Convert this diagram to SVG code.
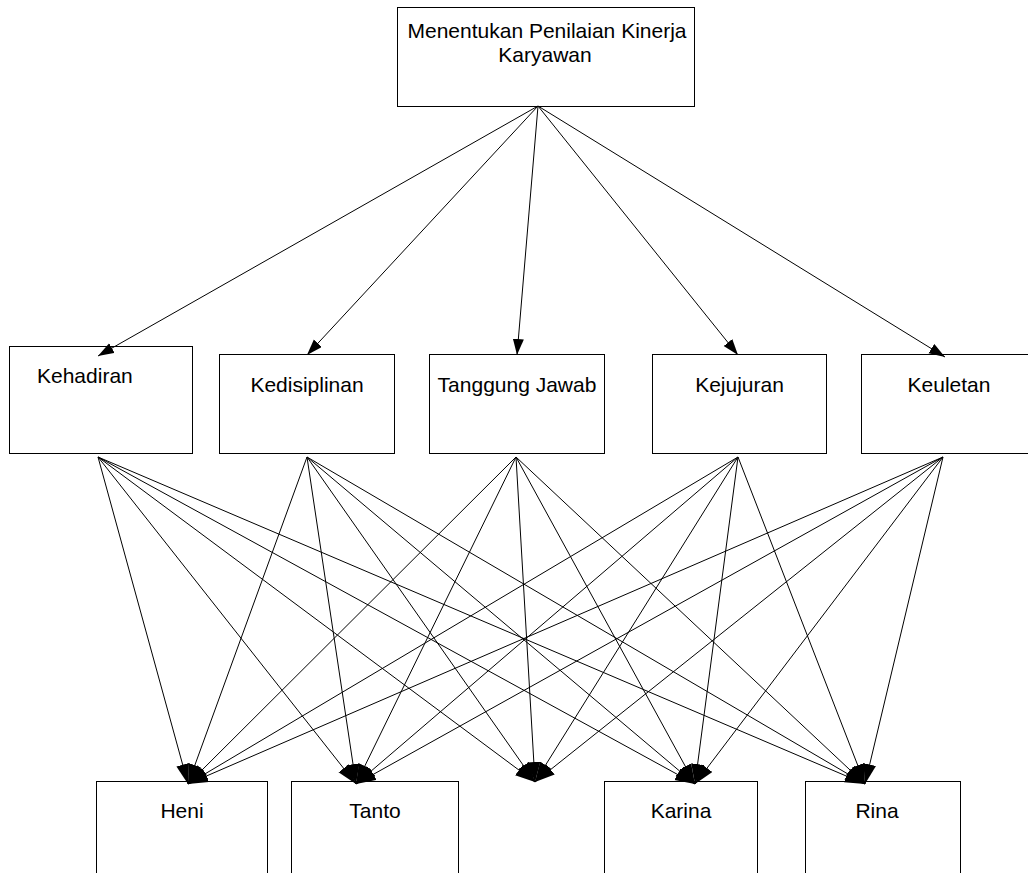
<svg xmlns="http://www.w3.org/2000/svg" width="1028" height="873" viewBox="0 0 1028 873">
<style>
.box{fill:#fff;stroke:#000;stroke-width:1}
.lbl{font-family:"Liberation Sans",Arial,sans-serif;font-size:21px;fill:#000}
.c{text-anchor:middle}
.ln{stroke:#000;stroke-width:1;fill:none;marker-end:url(#ah)}
.lb{stroke:#000;stroke-width:1;fill:none;marker-end:url(#ahb)}
</style>
<defs>
<marker id="ah" markerUnits="userSpaceOnUse" markerWidth="18" markerHeight="12" refX="16" refY="5.5" orient="auto">
<path d="M0,0 L16,5.5 L0,11 z" fill="#000"/>
</marker>
<marker id="ahb" markerUnits="userSpaceOnUse" markerWidth="22" markerHeight="14" refX="20" refY="6.5" orient="auto">
<path d="M0,0 L20,6.5 L0,13 z" fill="#000"/>
</marker>
</defs>
<rect width="1028" height="873" fill="#fff"/>
<g id="goal">
<rect class="box" x="397.5" y="7.5" width="297" height="99"/>
<text class="lbl c" x="547" y="38">Menentukan Penilaian Kinerja</text>
<text class="lbl c" x="545" y="62">Karyawan</text>
</g>
<g id="kehadiran">
<rect class="box" x="9.5" y="346.5" width="183" height="107"/>
<text class="lbl" x="37" y="383">Kehadiran</text>
</g>
<g id="kedisiplinan">
<rect class="box" x="219.5" y="354.5" width="175" height="99"/>
<text class="lbl c" x="307" y="392">Kedisiplinan</text>
</g>
<g id="tanggung-jawab">
<rect class="box" x="429.5" y="354.5" width="175" height="99"/>
<text class="lbl c" x="517" y="392">Tanggung Jawab</text>
</g>
<g id="kejujuran">
<rect class="box" x="652.5" y="354.5" width="174" height="99"/>
<text class="lbl c" x="739.5" y="392">Kejujuran</text>
</g>
<g id="keuletan">
<rect class="box" x="861.5" y="354.5" width="176" height="99"/>
<text class="lbl c" x="949" y="392">Keuletan</text>
</g>
<g id="heni">
<rect class="box" x="96.5" y="781.5" width="171" height="120"/>
<text class="lbl c" x="182" y="818">Heni</text>
</g>
<g id="tanto">
<rect class="box" x="291.5" y="781.5" width="167" height="120"/>
<text class="lbl c" x="375" y="818">Tanto</text>
</g>
<g id="karina">
<rect class="box" x="604.5" y="781.5" width="153" height="120"/>
<text class="lbl c" x="681" y="818">Karina</text>
</g>
<g id="rina">
<rect class="box" x="805.5" y="781.5" width="155" height="120"/>
<text class="lbl c" x="877" y="818">Rina</text>
</g>
<g id="connectors">
<line class="ln" x1="538" y1="106" x2="98" y2="356"/>
<line class="ln" x1="538" y1="106" x2="307" y2="355"/>
<line class="ln" x1="538" y1="106" x2="517" y2="355"/>
<line class="ln" x1="538" y1="106" x2="738" y2="355"/>
<line class="ln" x1="538" y1="106" x2="945" y2="357"/>

<line class="lb" x1="98" y1="457" x2="188" y2="784"/>
<line class="lb" x1="98" y1="457" x2="356" y2="784"/>
<line class="lb" x1="98" y1="457" x2="535" y2="782"/>
<line class="lb" x1="98" y1="457" x2="695" y2="784"/>
<line class="lb" x1="98" y1="457" x2="865" y2="784"/>

<line class="lb" x1="307" y1="457" x2="188" y2="784"/>
<line class="lb" x1="307" y1="457" x2="356" y2="784"/>
<line class="lb" x1="307" y1="457" x2="535" y2="782"/>
<line class="lb" x1="307" y1="457" x2="695" y2="784"/>
<line class="lb" x1="307" y1="457" x2="865" y2="784"/>

<line class="lb" x1="516" y1="457" x2="188" y2="784"/>
<line class="lb" x1="516" y1="457" x2="356" y2="784"/>
<line class="lb" x1="516" y1="457" x2="535" y2="782"/>
<line class="lb" x1="516" y1="457" x2="695" y2="784"/>
<line class="lb" x1="516" y1="457" x2="865" y2="784"/>

<line class="lb" x1="738" y1="457" x2="188" y2="784"/>
<line class="lb" x1="738" y1="457" x2="356" y2="784"/>
<line class="lb" x1="738" y1="457" x2="535" y2="782"/>
<line class="lb" x1="738" y1="457" x2="695" y2="784"/>
<line class="lb" x1="738" y1="457" x2="865" y2="784"/>

<line class="lb" x1="943" y1="457" x2="188" y2="784"/>
<line class="lb" x1="943" y1="457" x2="356" y2="784"/>
<line class="lb" x1="943" y1="457" x2="535" y2="782"/>
<line class="lb" x1="943" y1="457" x2="695" y2="784"/>
<line class="lb" x1="943" y1="457" x2="865" y2="784"/>
</g>
</svg>
